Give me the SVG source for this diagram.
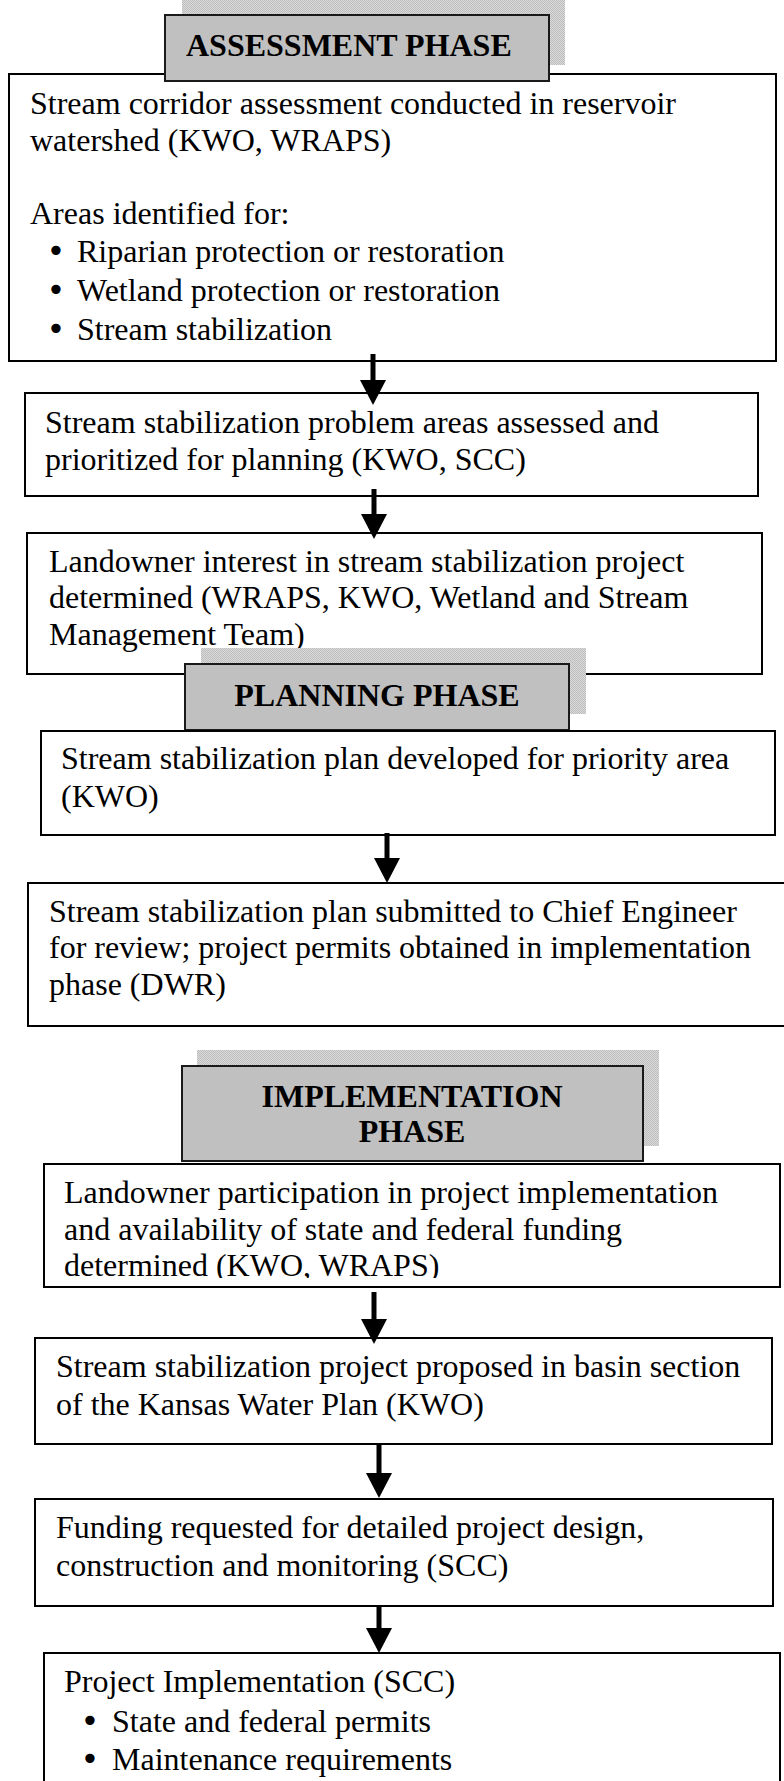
<svg xmlns="http://www.w3.org/2000/svg" width="784" height="1781" viewBox="0 0 784 1781">
<style>
  .box { fill: #ffffff; stroke: #000000; stroke-width: 2; }
  .hdr { fill: #c0c0c0; stroke: #1a1a1a; stroke-width: 2; }
  .shadow { fill: url(#dither); }
  .t { font-family: "Liberation Serif", "Times New Roman", serif; font-size: 32px; fill: #000000; }
  .b { font-family: "DejaVu Sans", sans-serif; font-size: 32px; fill: #000000; text-anchor: middle; }
  .h { font-family: "Liberation Serif", "Times New Roman", serif; font-size: 32px; font-weight: bold; fill: #000000; }
  .mid { text-anchor: middle; }
  .conn { stroke: #000000; stroke-width: 5; fill: none; }
</style>
<defs>
  <pattern id="dither" width="2" height="2" patternUnits="userSpaceOnUse">
    <rect width="2" height="2" fill="#dadada"/>
    <rect width="1" height="1" fill="#bdbdbd"/>
    <rect x="1" y="1" width="1" height="1" fill="#bdbdbd"/>
  </pattern>
  <marker id="arrow" markerUnits="userSpaceOnUse" markerWidth="25" markerHeight="26" viewBox="0 0 25 26" refX="0" refY="13" orient="auto">
    <path d="M0,0 L25,13 L0,26 z" fill="#000000"/>
  </marker>
  <clipPath id="clip6">
    <rect x="44" y="1164" width="736" height="114"/>
  </clipPath>
</defs>

<g id="node-assessment-box">
  <rect class="box" x="9" y="74" width="767" height="287"/>
  <text class="t" x="30" y="114">Stream corridor assessment conducted in reservoir</text>
  <text class="t" x="30" y="151">watershed (KWO, WRAPS)</text>
  <text class="t" x="30" y="224">Areas identified for:</text>
  <text class="b" x="56" y="262">•</text>
  <text class="t" x="77" y="262">Riparian protection or restoration</text>
  <text class="b" x="56" y="301">•</text>
  <text class="t" x="77" y="301">Wetland protection or restoration</text>
  <text class="b" x="56" y="340">•</text>
  <text class="t" x="77" y="340">Stream stabilization</text>
</g>

<g id="node-assessment-phase">
  <rect class="shadow" x="182" y="0" width="383" height="65"/>
  <rect class="hdr" x="165" y="15" width="384" height="66"/>
  <text class="h" x="186" y="56">ASSESSMENT PHASE</text>
</g>

<g id="node-problem-areas">
  <rect class="box" x="25" y="393" width="733" height="103"/>
  <text class="t" x="45" y="433">Stream stabilization problem areas assessed and</text>
  <text class="t" x="45" y="470">prioritized for planning (KWO, SCC)</text>
</g>

<g id="node-landowner-interest">
  <rect class="box" x="27" y="533" width="735" height="141"/>
  <text class="t" x="49" y="572">Landowner interest in stream stabilization project</text>
  <text class="t" x="49" y="608">determined (WRAPS, KWO, Wetland and Stream</text>
  <text class="t" x="49" y="645">Management Team)</text>
</g>

<g id="node-planning-phase">
  <rect class="shadow" x="201" y="648" width="385" height="66"/>
  <rect class="hdr" x="185" y="664" width="384" height="66"/>
  <text class="h mid" x="377" y="706">PLANNING PHASE</text>
</g>

<g id="node-plan-developed">
  <rect class="box" x="41" y="731" width="734" height="104"/>
  <text class="t" x="61" y="769">Stream stabilization plan developed for priority area</text>
  <text class="t" x="61" y="807">(KWO)</text>
</g>

<g id="node-plan-submitted">
  <rect class="box" x="28" y="883" width="780" height="143"/>
  <text class="t" x="49" y="922">Stream stabilization plan submitted to Chief Engineer</text>
  <text class="t" x="49" y="958">for review; project permits obtained in implementation</text>
  <text class="t" x="49" y="995">phase (DWR)</text>
</g>

<g id="node-implementation-phase">
  <rect class="shadow" x="197" y="1050" width="462" height="96"/>
  <rect class="hdr" x="182" y="1066" width="461" height="95"/>
  <text class="h mid" x="412" y="1107">IMPLEMENTATION</text>
  <text class="h mid" x="412" y="1142">PHASE</text>
</g>

<g id="node-landowner-participation">
  <rect class="box" x="44" y="1164" width="736" height="123"/>
  <g clip-path="url(#clip6)">
    <text class="t" x="64" y="1203">Landowner participation in project implementation</text>
    <text class="t" x="64" y="1240">and availability of state and federal funding</text>
    <text class="t" x="64" y="1276">determined (KWO, WRAPS)</text>
  </g>
</g>

<g id="node-kansas-water-plan">
  <rect class="box" x="35" y="1338" width="737" height="106"/>
  <text class="t" x="56" y="1377">Stream stabilization project proposed in basin section</text>
  <text class="t" x="56" y="1415">of the Kansas Water Plan (KWO)</text>
</g>

<g id="node-funding-requested">
  <rect class="box" x="35" y="1499" width="738" height="107"/>
  <text class="t" x="56" y="1538">Funding requested for detailed project design,</text>
  <text class="t" x="56" y="1576">construction and monitoring (SCC)</text>
</g>

<g id="node-project-implementation">
  <rect class="box" x="44" y="1653" width="736" height="160"/>
  <text class="t" x="64" y="1692">Project Implementation (SCC)</text>
  <text class="b" x="90" y="1732">•</text>
  <text class="t" x="112" y="1732">State and federal permits</text>
  <text class="b" x="90" y="1770">•</text>
  <text class="t" x="112" y="1770">Maintenance requirements</text>
</g>

<g id="connectors">
  <line class="conn" x1="373" y1="354" x2="373" y2="380" marker-end="url(#arrow)"/>
  <line class="conn" x1="374" y1="489" x2="374" y2="514" marker-end="url(#arrow)"/>
  <line class="conn" x1="387" y1="833" x2="387" y2="858" marker-end="url(#arrow)"/>
  <line class="conn" x1="374" y1="1292" x2="374" y2="1319" marker-end="url(#arrow)"/>
  <line class="conn" x1="379" y1="1445" x2="379" y2="1473" marker-end="url(#arrow)"/>
  <line class="conn" x1="379" y1="1605" x2="379" y2="1628" marker-end="url(#arrow)"/>
</g>
</svg>
